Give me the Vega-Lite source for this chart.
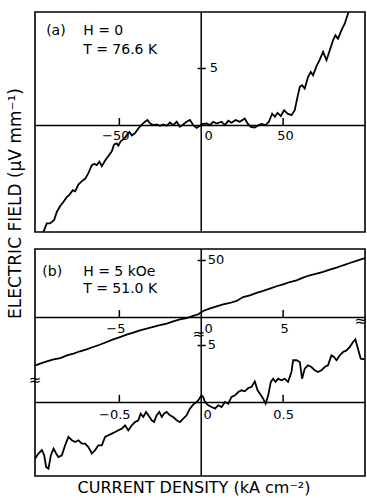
{
  "$schema": "https://vega.github.io/schema/vega-lite/v6.json",
  "padding": {"left": 6, "top": 10, "right": 2, "bottom": 0},
  "title": {"text": "ELECTRIC FIELD (μV mm⁻¹)", "orient": "left", "anchor": "middle", "offset": 3, "dx": 50, "fontSize": 17, "fontWeight": "normal", "font": "DejaVu Sans", "color": "black"},
  "spacing": 13,
  "datasets": {
    "a": [
      {"J": -96.5, "E": -9.4}, {"J": -94.3, "E": -8.6}, {"J": -92.3, "E": -8.6}, {"J": -89.8, "E": -8.3}, {"J": -88.2, "E": -7.6}, {"J": -86.2, "E": -7.1}, {"J": -84.1, "E": -6.7}, {"J": -82.1, "E": -6.3}, {"J": -80.5, "E": -6.1}, {"J": -78.4, "E": -5.7}, {"J": -77, "E": -5.8}, {"J": -75, "E": -5.2}, {"J": -72.9, "E": -4.9}, {"J": -70.9, "E": -4.7}, {"J": -68.9, "E": -4.2}, {"J": -66.8, "E": -3.5}, {"J": -65.2, "E": -3.4}, {"J": -63.8, "E": -3.5}, {"J": -62.2, "E": -3.2}, {"J": -60.7, "E": -3.6}, {"J": -58.7, "E": -3.1}, {"J": -56.7, "E": -2.7}, {"J": -54.6, "E": -2.3}, {"J": -53.2, "E": -1.7}, {"J": -51.6, "E": -1.6}, {"J": -50.6, "E": -1.8}, {"J": -49.1, "E": -1.4}, {"J": -47.1, "E": -1.2}, {"J": -45.5, "E": -0.9}, {"J": -43.9, "E": -0.6}, {"J": -42.4, "E": -0.9}, {"J": -40.4, "E": -0.7}, {"J": -38.4, "E": -0.3}, {"J": -36.3, "E": 0.05}, {"J": -34.3, "E": 0.3}, {"J": -32.9, "E": 0.45}, {"J": -31.3, "E": 0.15}, {"J": -29.3, "E": 0}, {"J": -27.2, "E": 0.05}, {"J": -25.2, "E": -0.06}, {"J": -23.2, "E": 0.05}, {"J": -21.1, "E": -0.06}, {"J": -19.1, "E": 0.23}, {"J": -17.1, "E": 0}, {"J": -15, "E": 0.3}, {"J": -13, "E": -0.15}, {"J": -11, "E": 0.05}, {"J": -8.9, "E": 0.3}, {"J": -6.9, "E": 0.45}, {"J": -4.9, "E": 0}, {"J": -2.8, "E": -0.24}, {"J": -0.8, "E": -0.06},
      {"J": 0.2, "E": 0.09}, {"J": 3.3, "E": 0.14}, {"J": 5.3, "E": 0}, {"J": 7.3, "E": 0.29}, {"J": 9.4, "E": 0.14}, {"J": 12.4, "E": 0.29}, {"J": 14.5, "E": 0}, {"J": 16.5, "E": 0.38}, {"J": 18.5, "E": 0.2}, {"J": 21, "E": 0.44}, {"J": 23.6, "E": 0.29}, {"J": 26.6, "E": 0.58}, {"J": 28.3, "E": 0.14}, {"J": 30.3, "E": -0.15}, {"J": 32.7, "E": -0.21}, {"J": 35.2, "E": 0}, {"J": 36.8, "E": 0.09}, {"J": 39.3, "E": 0}, {"J": 41.3, "E": 0.29}, {"J": 43.3, "E": 1.0}, {"J": 45, "E": 0.72}, {"J": 46.6, "E": 1.07}, {"J": 48.6, "E": 0.79}, {"J": 50.6, "E": 1.3}, {"J": 52.7, "E": 1.0}, {"J": 55.1, "E": 0.87}, {"J": 57.1, "E": 1.3}, {"J": 58.8, "E": 2.47}, {"J": 60.2, "E": 3.34}, {"J": 61.6, "E": 3.49}, {"J": 63.2, "E": 3.19}, {"J": 65.2, "E": 4.2}, {"J": 66.9, "E": 4.65}, {"J": 68.3, "E": 4.36}, {"J": 70.4, "E": 5.15}, {"J": 72.4, "E": 5.72}, {"J": 74.4, "E": 6.4}, {"J": 76.5, "E": 5.67}, {"J": 78.5, "E": 6.54}, {"J": 80.5, "E": 7.42}, {"J": 81.9, "E": 7.85}, {"J": 83.5, "E": 7.56}, {"J": 85.6, "E": 8.29}, {"J": 87.6, "E": 8.87}, {"J": 89.6, "E": 9.74}, {"J": 90.1, "E": 9.89}
    ],
    "bu": [
      {"J": -10.15, "E": -42.5}, {"J": -9.84, "E": -40.7}, {"J": -9.43, "E": -38.7}, {"J": -9.02, "E": -37}, {"J": -8.6, "E": -35.8}, {"J": -8.2, "E": -33.5}, {"J": -7.8, "E": -32}, {"J": -7.4, "E": -29.9}, {"J": -7, "E": -28.2}, {"J": -6.6, "E": -26.2}, {"J": -6.2, "E": -24.2}, {"J": -5.77, "E": -21.8}, {"J": -5.37, "E": -19.5}, {"J": -4.96, "E": -17.5}, {"J": -4.55, "E": -15.4}, {"J": -4.15, "E": -13.7}, {"J": -3.74, "E": -11.6}, {"J": -3.33, "E": -10.2}, {"J": -2.93, "E": -8.7}, {"J": -2.52, "E": -7.2}, {"J": -2.11, "E": -5.8}, {"J": -1.71, "E": -3.8}, {"J": -1.3, "E": -2}, {"J": -0.89, "E": -0.9}, {"J": -0.49, "E": 0.9}, {"J": -0.18, "E": 2.4}, {"J": 0.12, "E": 5.2}, {"J": 0.5, "E": 7.3}, {"J": 0.94, "E": 9.3}, {"J": 1.34, "E": 11}, {"J": 1.75, "E": 12.2}, {"J": 2.16, "E": 14}, {"J": 2.56, "E": 17.4}, {"J": 2.97, "E": 18.9}, {"J": 3.38, "E": 21}, {"J": 3.78, "E": 22.7}, {"J": 4.19, "E": 24.7}, {"J": 4.6, "E": 26.8}, {"J": 5, "E": 28.5}, {"J": 5.41, "E": 30.5}, {"J": 5.82, "E": 32}, {"J": 6.22, "E": 34.3}, {"J": 6.63, "E": 36.4}, {"J": 7.04, "E": 37.8}, {"J": 7.44, "E": 39.3}, {"J": 7.85, "E": 41.3}, {"J": 8.26, "E": 43}, {"J": 8.66, "E": 45.1}, {"J": 9.07, "E": 47.1}, {"J": 9.48, "E": 48.9}, {"J": 9.88, "E": 50.9}, {"J": 10, "E": 51.2}
    ],
    "bl": [
      {"J": -1.015, "E": -4.95}, {"J": -0.994, "E": -4.5}, {"J": -0.973, "E": -4.2}, {"J": -0.959, "E": -4.65}, {"J": -0.947, "E": -5.67}, {"J": -0.933, "E": -5.82}, {"J": -0.918, "E": -4.65}, {"J": -0.902, "E": -4.07}, {"J": -0.886, "E": -4.5}, {"J": -0.872, "E": -4.8}, {"J": -0.851, "E": -4.65}, {"J": -0.831, "E": -3.78}, {"J": -0.811, "E": -3.05}, {"J": -0.79, "E": -3.34}, {"J": -0.77, "E": -3.49}, {"J": -0.75, "E": -3.34}, {"J": -0.729, "E": -3.64}, {"J": -0.709, "E": -3.64}, {"J": -0.689, "E": -3.93}, {"J": -0.668, "E": -4.5}, {"J": -0.648, "E": -4.2}, {"J": -0.628, "E": -3.78}, {"J": -0.607, "E": -3.78}, {"J": -0.587, "E": -3.05}, {"J": -0.567, "E": -2.9}, {"J": -0.546, "E": -2.76}, {"J": -0.526, "E": -2.62}, {"J": -0.506, "E": -2.47}, {"J": -0.485, "E": -2.33}, {"J": -0.465, "E": -2.04}, {"J": -0.445, "E": -2.47}, {"J": -0.424, "E": -2.04}, {"J": -0.404, "E": -1.75}, {"J": -0.384, "E": -1.6}, {"J": -0.37, "E": -1.02}, {"J": -0.354, "E": -1.31}, {"J": -0.337, "E": -0.87}, {"J": -0.323, "E": -1.16}, {"J": -0.302, "E": -1.6}, {"J": -0.288, "E": -1.75}, {"J": -0.272, "E": -1.16}, {"J": -0.256, "E": -0.87}, {"J": -0.241, "E": -1.31}, {"J": -0.227, "E": -1.02}, {"J": -0.211, "E": -0.87}, {"J": -0.191, "E": -1.16}, {"J": -0.171, "E": -1.31}, {"J": -0.15, "E": -1.6}, {"J": -0.13, "E": -1.75}, {"J": -0.11, "E": -1.46}, {"J": -0.089, "E": -1.16}, {"J": -0.069, "E": -0.58}, {"J": -0.049, "E": -0.23}, {"J": -0.028, "E": 0}, {"J": -0.018, "E": 0.15}, {"J": 0.002, "E": 0.58}, {"J": 0.012, "E": 0.44}, {"J": 0.023, "E": 0}, {"J": 0.043, "E": -0.29}, {"J": 0.063, "E": -0.44}, {"J": 0.084, "E": -0.58}, {"J": 0.104, "E": -0.29}, {"J": 0.124, "E": -0.44}, {"J": 0.145, "E": 0}, {"J": 0.165, "E": -0.15}, {"J": 0.185, "E": 0.44}, {"J": 0.206, "E": 0.58}, {"J": 0.226, "E": 0.87}, {"J": 0.246, "E": 1.02}, {"J": 0.266, "E": 0.93}, {"J": 0.287, "E": 1.22}, {"J": 0.307, "E": 1.31}, {"J": 0.327, "E": 1.8}, {"J": 0.344, "E": 1.02}, {"J": 0.358, "E": 0.73}, {"J": 0.378, "E": 0.29}, {"J": 0.393, "E": -0.15}, {"J": 0.409, "E": 0.58}, {"J": 0.425, "E": 1.75}, {"J": 0.439, "E": 2.03}, {"J": 0.454, "E": 1.75}, {"J": 0.47, "E": 2.03}, {"J": 0.49, "E": 1.89}, {"J": 0.51, "E": 2.03}, {"J": 0.53, "E": 1.75}, {"J": 0.551, "E": 2.62}, {"J": 0.561, "E": 3.64}, {"J": 0.582, "E": 3.64}, {"J": 0.602, "E": 3.49}, {"J": 0.616, "E": 2.03}, {"J": 0.632, "E": 2.91}, {"J": 0.652, "E": 3.2}, {"J": 0.673, "E": 3.05}, {"J": 0.693, "E": 2.76}, {"J": 0.713, "E": 2.62}, {"J": 0.734, "E": 2.76}, {"J": 0.754, "E": 3.05}, {"J": 0.774, "E": 3.2}, {"J": 0.795, "E": 4.07}, {"J": 0.811, "E": 3.93}, {"J": 0.826, "E": 3.64}, {"J": 0.846, "E": 4.07}, {"J": 0.866, "E": 4.36}, {"J": 0.887, "E": 4.5}, {"J": 0.907, "E": 4.8}, {"J": 0.927, "E": 5.24}, {"J": 0.941, "E": 5.47}, {"J": 0.957, "E": 4.65}, {"J": 0.974, "E": 3.78}, {"J": 0.998, "E": 3.72}
    ],
    "zero": [{"J": 0}],
    "tickA": [{"J": -50}, {"J": 50}],
    "tickBU": [{"J": -5}, {"J": 5}],
    "tickBL": [{"J": -0.5}, {"J": 0.5}],
    "ta": [
      {"J": -94.7, "E": 7.85, "t": "(a)"},
      {"J": -72.1, "E": 7.85, "t": "H = 0"},
      {"J": -72.1, "E": 6.25, "t": "T = 76.6 K"}
    ],
    "tb": [
      {"J": -9.7, "E": 35.8, "t": "(b)"},
      {"J": -7.21, "E": 35.8, "t": "H = 5 kOe"},
      {"J": -7.21, "E": 20.9, "t": "T = 51.0 K"}
    ],
    "br": [
      {"J": -1.015, "E": 1.9},
      {"J": -0.015, "E": 5.9},
      {"J": 0.975, "E": 7.1}
    ]
  },
  "vconcat": [
    {
      "width": 330,
      "height": 220,
      "layer": [
        {
          "data": {"name": "a"},
          "mark": {"type": "line", "color": "black", "strokeWidth": 1.8, "clip": true},
          "encoding": {
            "x": {"field": "J", "type": "quantitative", "scale": {"domain": [-101.5, 100], "nice": false, "zero": false},
              "axis": {"orient": "bottom", "offset": -107, "values": [-50, 0, 50], "title": null, "domain": true, "ticks": false, "tickSize": 0,
                "labelOffset": {"condition": [{"test": "datum.value < 0", "value": -4}, {"test": "datum.value === 0", "value": 7}], "value": 2},
                "labelPadding": 4, "labelOverlap": false, "labelFlush": false}},
            "y": {"field": "E", "type": "quantitative", "scale": {"domain": [-9.35, 9.89], "nice": false, "zero": false},
              "axis": {"orient": "right", "offset": -167.8, "values": [5], "title": null, "domain": false, "tickSize": 8, "labelPadding": 4, "labelOverlap": false, "labelFlush": false}}
          }
        },
        {
          "data": {"name": "zero"},
          "mark": {"type": "rule", "color": "black", "strokeWidth": 1.5},
          "encoding": {"x": {"field": "J", "type": "quantitative"}}
        },
        {
          "data": {"name": "tickA"},
          "mark": {"type": "rule", "color": "black", "strokeWidth": 1.5},
          "encoding": {"x": {"field": "J", "type": "quantitative"}, "y": {"datum": 0, "type": "quantitative"}, "y2": {"datum": 0.62}}
        },
        {
          "data": {"name": "ta"},
          "mark": {"type": "text", "align": "left", "baseline": "alphabetic", "fontSize": 14, "font": "DejaVu Sans", "color": "black"},
          "encoding": {
            "x": {"field": "J", "type": "quantitative"},
            "y": {"field": "E", "type": "quantitative"},
            "text": {"field": "t"}
          }
        }
      ]
    },
    {
      "width": 330,
      "height": 227,
      "title": {"text": "CURRENT DENSITY (kA cm⁻²)", "orient": "bottom", "anchor": "middle", "offset": 3, "dx": -6, "fontSize": 16, "fontWeight": "normal", "font": "DejaVu Sans", "color": "black"},
      "resolve": {"scale": {"x": "independent", "y": "independent"}, "axis": {"x": "independent", "y": "independent"}},
      "layer": [
        {
          "data": {"name": "bu"},
          "mark": {"type": "line", "color": "black", "strokeWidth": 1.8, "clip": true},
          "encoding": {
            "x": {"field": "J", "type": "quantitative", "scale": {"domain": [-10.15, 10], "nice": false, "zero": false},
              "axis": {"orient": "bottom", "offset": -159, "values": [-5, 0, 5], "title": null, "domain": true, "ticks": false, "tickSize": 0,
                "labelOffset": {"condition": [{"test": "datum.value < 0", "value": -4}, {"test": "datum.value === 0", "value": 7}], "value": 1},
                "labelPadding": 5, "labelOverlap": false, "labelFlush": false}},
            "y": {"field": "E", "type": "quantitative", "scale": {"domain": [-138.7, 59.3], "nice": false, "zero": false},
              "axis": {"orient": "right", "offset": -167.8, "values": [50], "title": null, "domain": false, "tickSize": 8, "labelPadding": 2, "labelOverlap": false, "labelFlush": false}}
          }
        },
        {
          "data": {"name": "bl"},
          "mark": {"type": "line", "color": "black", "strokeWidth": 1.8, "clip": true},
          "encoding": {
            "x": {"field": "J", "type": "quantitative", "scale": {"domain": [-1.015, 1], "nice": false, "zero": false},
              "axis": {"orient": "bottom", "offset": -74, "values": [-0.5, 0, 0.5], "title": null, "domain": true, "ticks": false, "tickSize": 0,
                "labelExpr": "datum.value === 0 ? '0' : format(datum.value, '.1f')",
                "labelOffset": {"condition": [{"test": "datum.value < 0", "value": -5}, {"test": "datum.value === 0", "value": 6}], "value": 0},
                "labelPadding": 6, "labelOverlap": false, "labelFlush": false}},
            "y": {"field": "E", "type": "quantitative", "scale": {"domain": [-6.46, 13.35], "nice": false, "zero": false},
              "axis": {"orient": "right", "offset": -167.8, "values": [5], "title": null, "domain": false, "tickSize": 8, "labelPadding": 2, "labelOverlap": false, "labelFlush": false}}
          }
        },
        {
          "data": {"name": "zero"},
          "mark": {"type": "rule", "color": "black", "strokeWidth": 1.5},
          "encoding": {"x": {"field": "J", "type": "quantitative", "scale": {"domain": [-10.15, 10], "nice": false, "zero": false}, "axis": null}}
        },
        {
          "data": {"name": "tickBU"},
          "mark": {"type": "rule", "color": "black", "strokeWidth": 1.5},
          "encoding": {
            "x": {"field": "J", "type": "quantitative", "scale": {"domain": [-10.15, 10], "nice": false, "zero": false}, "axis": null},
            "y": {"datum": 0, "type": "quantitative", "scale": {"domain": [-138.7, 59.3], "nice": false, "zero": false}, "axis": null},
            "y2": {"datum": 6}
          }
        },
        {
          "data": {"name": "tickBL"},
          "mark": {"type": "rule", "color": "black", "strokeWidth": 1.5},
          "encoding": {
            "x": {"field": "J", "type": "quantitative", "scale": {"domain": [-1.015, 1], "nice": false, "zero": false}, "axis": null},
            "y": {"datum": 0, "type": "quantitative", "scale": {"domain": [-6.46, 13.35], "nice": false, "zero": false}, "axis": null},
            "y2": {"datum": 0.62}
          }
        },
        {
          "data": {"name": "tb"},
          "mark": {"type": "text", "align": "left", "baseline": "alphabetic", "fontSize": 14, "font": "DejaVu Sans", "color": "black"},
          "encoding": {
            "x": {"field": "J", "type": "quantitative", "scale": {"domain": [-10.15, 10], "nice": false, "zero": false}, "axis": null},
            "y": {"field": "E", "type": "quantitative", "scale": {"domain": [-138.7, 59.3], "nice": false, "zero": false}, "axis": null},
            "text": {"field": "t"}
          }
        },
        {
          "data": {"name": "br"},
          "mark": {"type": "text", "align": "center", "baseline": "middle", "fontSize": 15, "font": "DejaVu Sans", "color": "black"},
          "encoding": {
            "x": {"field": "J", "type": "quantitative", "scale": {"domain": [-1.015, 1], "nice": false, "zero": false}, "axis": null},
            "y": {"field": "E", "type": "quantitative", "scale": {"domain": [-6.46, 13.35], "nice": false, "zero": false}, "axis": null},
            "text": {"value": "≈"}
          }
        }
      ]
    }
  ],
  "config": {
    "font": "DejaVu Sans",
    "view": {"stroke": "black", "strokeWidth": 1.6},
    "axis": {"grid": false, "labelFont": "DejaVu Sans", "labelFontSize": 13, "labelColor": "black", "tickColor": "black", "tickWidth": 1.5, "domainColor": "black", "domainWidth": 1.5}
  }
}
